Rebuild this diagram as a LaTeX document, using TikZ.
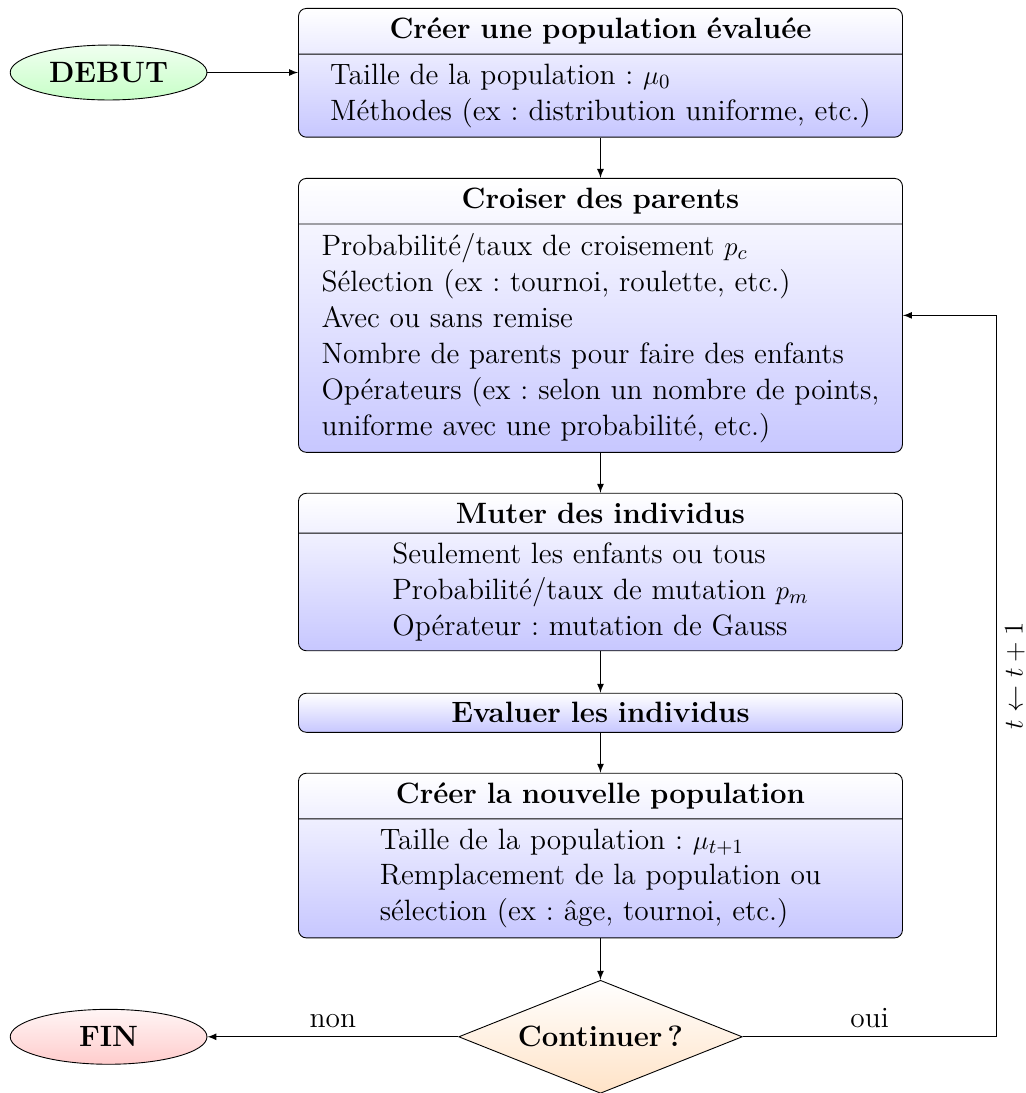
\documentclass[11pt,tikz,border=0pt]{standalone}
\usepackage{amsmath, amssymb}
\usepackage{xcolor}
\usepackage{tikz}
\usetikzlibrary{calc, shapes.geometric, shapes.multipart}

\newcommand{\police}{\fontsize{13.1}{16}\selectfont\frenchspacing}
\newcommand{\liste}[1]{\vbox{\halign{##\hfil\cr#1\crcr}}}

\begin{document}
\begin{tikzpicture}[
		font = \police,
		etape/.style = {rectangle split, rectangle split parts = 2, draw, rounded corners = 3.5pt, top color = white, bottom color = blue!22, text width = 263pt, align = center, inner xsep = 3pt, inner ysep = 4.1pt},
		etapesimple/.style = {rectangle, draw, rounded corners = 3.5pt, top color = white, bottom color = blue!22, text width = 263pt, align = center, inner xsep = 3pt, inner ysep = 3pt, minimum height = 17.4pt, font = \police\bfseries},
		debutfin/.style = {ellipse, draw, minimum width = 3.08cm, minimum height = 0.86cm, inner sep = 0pt, font = \police\bfseries},
		decision/.style = {diamond, draw, aspect = 2.5, top color = white, bottom color = orange!22, minimum width = 4.44cm, minimum height = 1.77cm, inner sep = 1pt, font = \police\bfseries}
	]
	\def\xMAX{16.06};
	\def\yMIN{-17.11};
	\def\xC{9.40};
	\def\xB{1.70};
	\def\xLoop{15.60};

	\useasboundingbox (0,0) rectangle (\xMAX,\yMIN);

	\node [debutfin, top color = green!6, bottom color = green!22] (debut) at (\xB,-1.135) {DEBUT};
	\node [debutfin, top color = red!4, bottom color = red!20] (fin) at (\xB,-16.23) {FIN};

	\node [etape, anchor = north] (creer) at (\xC,-0.125) {\textbf{Créer une population évaluée}
		\nodepart{two}
		\liste{Taille de la population : $\mu_0$\cr
			Méthodes (ex : distribution uniforme, etc.)}};

	\node [etape, anchor = north] (croiser) at (\xC,-2.786) {\textbf{Croiser des parents}
		\nodepart{two}
		\liste{Probabilité/taux de croisement $p_c$\cr
			Sélection (ex : tournoi, roulette, etc.)\cr
			Avec ou sans remise\cr
			Nombre de parents pour faire des enfants\cr
			Opérateurs (ex : selon un nombre de points,\cr
			uniforme avec une probabilité, etc.)}};

	\node [etape, anchor = north] (muter) at (\xC,-7.715) {\textbf{Muter des individus}
		\nodepart{two}
		\liste{Seulement les enfants ou tous\cr
			Probabilité/taux de mutation $p_m$\cr
			Opérateur : mutation de Gauss}};

	\node [etapesimple, anchor = north] (evaluer) at (\xC,-10.845) {Evaluer les individus};

	\node [etape, anchor = north] (nouvelle) at (\xC,-12.097) {\textbf{Créer la nouvelle population}
		\nodepart{two}
		\liste{Taille de la population : $\mu_{t+1}$\cr
			Remplacement de la population ou\cr
			sélection (ex : âge, tournoi, etc.)}};

	\node [decision] (cont) at (\xC,-16.23) {Continuer\,?};

	\coordinate (coin) at (\xLoop,0);

	\begin{scope}[-latex]
		\draw (debut) -- (debut -| creer.west);
		\draw (creer.south) -- (croiser.north);
		\draw (croiser.south) -- (muter.north);
		\draw (muter.south) -- (evaluer.north);
		\draw (evaluer.south) -- (nouvelle.north);
		\draw (nouvelle.south) -- (cont.north);
		\draw (cont.west) -- node [above] {non} (fin.east);
		\draw (cont.east) -- node [above] {oui} (cont.east -| coin) |- node [pos = 0.25, rotate = 90, anchor = north] {$t \leftarrow t+1$} (croiser.east);
	\end{scope}
\end{tikzpicture}
\end{document}
